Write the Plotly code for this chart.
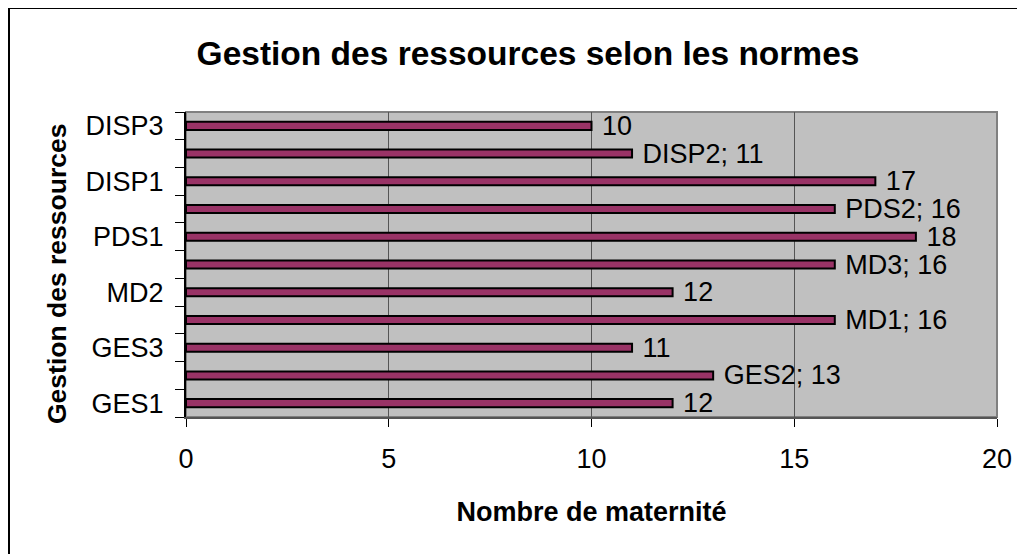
import plotly.graph_objects as go

categories = ["GES1", "GES2", "GES3", "MD1", "MD2", "MD3", "PDS1", "PDS2", "DISP1", "DISP2", "DISP3"]
values = [12, 13, 11, 16, 12, 16, 18, 16, 17, 11, 10]
tick_labels = ["GES1", "", "GES3", "", "MD2", "", "PDS1", "", "DISP1", "", "DISP3"]
bar_labels = [" " + (str(v) if t else f"{c}; {v}") for c, v, t in zip(categories, values, tick_labels)]

title_text = "Gestion des ressources selon les normes"
x_title = "Nombre de maternité"
y_title = "Gestion des ressources"
x_ticks = [0, 5, 10, 15, 20]

FONT = "Liberation Sans, Arial, sans-serif"
W, H = 1017, 546
L, T, PW, PH = 178, 104, 811, 305

fig = go.Figure(go.Bar(
    x=values, y=categories, orientation="h",
    marker=dict(color="#993366", line=dict(color="black", width=2)),
    text=bar_labels, textposition="outside", constraintext="none",
    cliponaxis=False,
    textfont=dict(family=FONT, size=27, color="black"),
))

fig.update_layout(
    width=W, height=H,
    margin=dict(l=L, r=W - L - PW, t=T, b=H - T - PH),
    paper_bgcolor="white", plot_bgcolor="#C0C0C0",
    bargap=0.71, showlegend=False,
    font=dict(family=FONT, color="black"),
    title=dict(text=f"<b>{title_text}</b>", x=520 / W, xanchor="center",
               y=1 - 45 / H, yanchor="middle", yref="container",
               font=dict(size=33.5, family=FONT, color="black")),
)

fig.update_xaxes(
    range=[0, 20], tickvals=x_ticks, ticks="outside", ticklen=8, tickwidth=1,
    tickcolor="black", ticklabelstandoff=9,
    showgrid=True, gridcolor="#555555", gridwidth=1, zeroline=False,
    showline=True, linecolor="#555555", linewidth=2,
    tickfont=dict(size=27, family=FONT, color="black"),
    title=dict(text=f"<b>{x_title}</b>", standoff=29,
               font=dict(size=27, family=FONT, color="black")),
)

fig.update_yaxes(
    type="category", categoryorder="array", categoryarray=categories,
    tickvals=categories, ticktext=tick_labels, tickson="boundaries",
    ticks="outside", ticklen=9, tickwidth=1, tickcolor="black",
    ticklabelstandoff=15,
    showgrid=False, zeroline=False, showline=True, linecolor="black", linewidth=2,
    tickfont=dict(size=27, family=FONT, color="black"),
)

# y axis title placed as annotation (slightly below plot-area centre, as in the reference)
fig.add_annotation(text=f"<b>{y_title}</b>", textangle=-90, showarrow=False,
                   xref="paper", yref="paper", x=(49 - L) / PW, y=(T + PH - 266) / PH,
                   xanchor="center", yanchor="middle",
                   font=dict(size=26.5, family=FONT, color="black"))

# plot area border (gray)
fig.add_shape(type="rect", xref="paper", yref="paper", x0=0, x1=1, y0=0, y1=1,
              line=dict(color="#808080", width=2), layer="below")
# outer frame
fig.add_shape(type="rect", xref="paper", yref="paper",
              x0=(1 - L) / PW, x1=(1040 - L) / PW,
              y0=(T + PH - 560) / PH, y1=(T + PH - 0) / PH,
              line=dict(color="black", width=2), fillcolor="rgba(0,0,0,0)")

fig.write_html("out.html")
